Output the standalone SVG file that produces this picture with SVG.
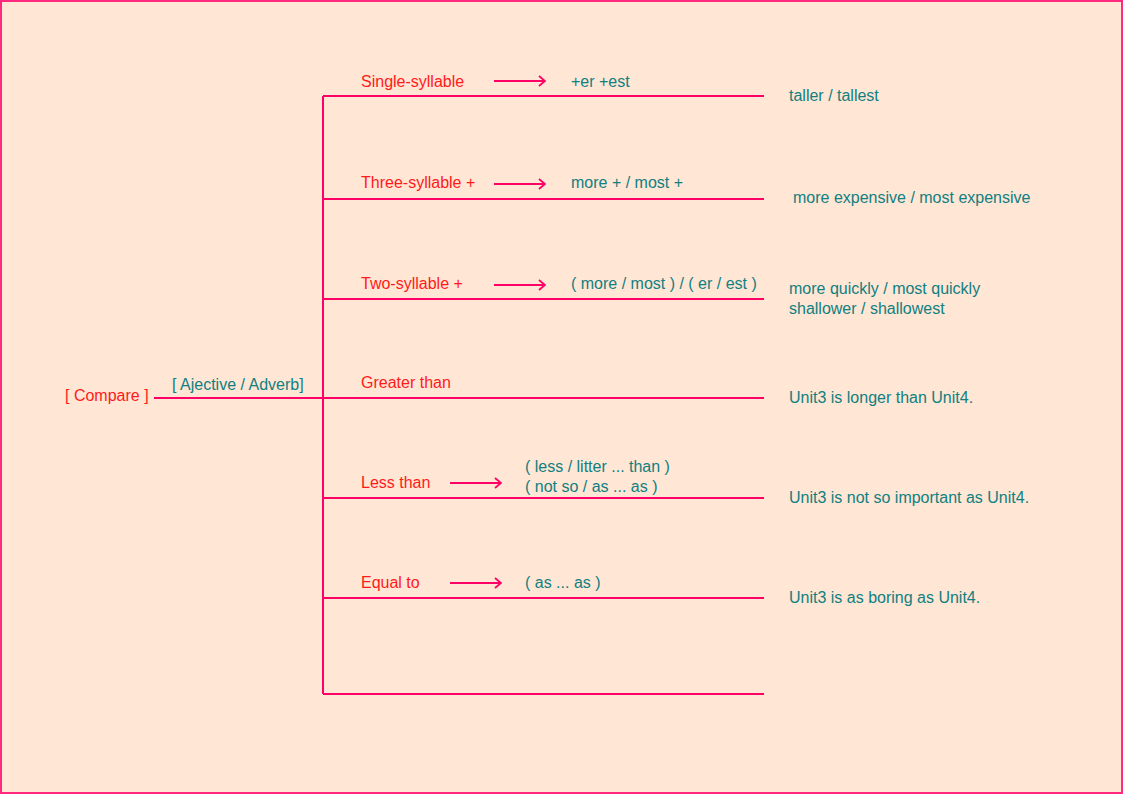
<svg xmlns="http://www.w3.org/2000/svg" width="1123" height="794" viewBox="0 0 1123 794">
<style>
text{font-family:"Liberation Sans",Arial,sans-serif;font-size:16px}
.r{fill:#ff1a1a}
.t{fill:#108080}
.ln{stroke:#ff0066;stroke-width:2;fill:none}
.ar{stroke:#ff0066;stroke-width:1.8;fill:none}
</style>
<defs>
<marker id="ah" viewBox="0 0 10 12" refX="9" refY="6" markerWidth="10" markerHeight="12" orient="auto" markerUnits="userSpaceOnUse">
<path d="M3,1 L9,6 L3,11" fill="none" stroke="#ff0066" stroke-width="1.8"/>
</marker>
</defs>
<rect x="1" y="1" width="1121" height="792" fill="#ffe6d5" stroke="#ff2a7f" stroke-width="2"/>
<g id="connectors">
<path class="ln" d="M154,398 H323 M323,96 V694 M323,96 H764 M323,199 H764 M323,299 H764 M323,398 H764 M323,498 H764 M323,598 H764 M323,694 H764"/>
<path class="ar" d="M494,81 H545" marker-end="url(#ah)"/>
<path class="ar" d="M494,184 H545" marker-end="url(#ah)"/>
<path class="ar" d="M494,285 H545" marker-end="url(#ah)"/>
<path class="ar" d="M450,483 H501" marker-end="url(#ah)"/>
<path class="ar" d="M450,583 H501" marker-end="url(#ah)"/>
</g>
<g id="root"><text class="r" x="65" y="401">[ Compare ]</text></g>
<g id="type"><text class="t" x="172" y="390">[ Ajective / Adverb]</text></g>
<g id="single">
<text class="r" x="361" y="87">Single-syllable</text>
<text class="t" x="571" y="87">+er +est</text>
<text class="t" x="789" y="101">taller / tallest</text>
</g>
<g id="three">
<text class="r" x="361" y="188">Three-syllable +</text>
<text class="t" x="571" y="188">more + / most +</text>
<text class="t" x="793" y="203">more expensive / most expensive</text>
</g>
<g id="two">
<text class="r" x="361" y="289">Two-syllable +</text>
<text class="t" x="571" y="289">( more / most ) / ( er / est )</text>
<text class="t" x="789" y="294">more quickly / most quickly</text>
<text class="t" x="789" y="314">shallower / shallowest</text>
</g>
<g id="greater">
<text class="r" x="361" y="388">Greater than</text>
<text class="t" x="789" y="403">Unit3 is longer than Unit4.</text>
</g>
<g id="less">
<text class="r" x="361" y="488">Less than</text>
<text class="t" x="525" y="472">( less / litter ... than )</text>
<text class="t" x="525" y="492">( not so / as ... as )</text>
<text class="t" x="789" y="503">Unit3 is not so important as Unit4.</text>
</g>
<g id="equal">
<text class="r" x="361" y="588">Equal to</text>
<text class="t" x="525" y="588">( as ... as )</text>
<text class="t" x="789" y="603">Unit3 is as boring as Unit4.</text>
</g>
</svg>
